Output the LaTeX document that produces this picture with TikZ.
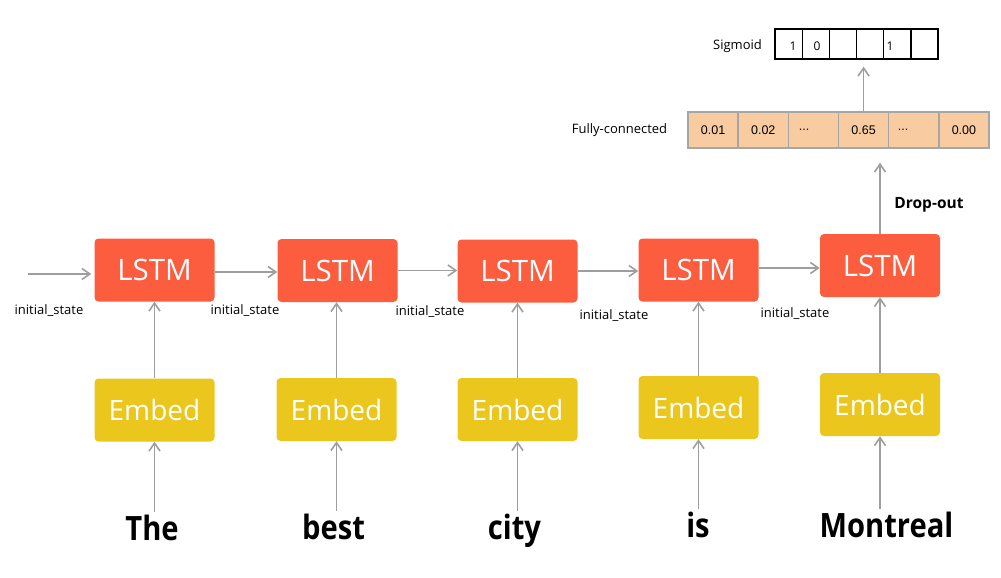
\documentclass[tikz,border=0pt]{standalone}
\usepackage{fontspec}
\setmainfont{Open Sans}
\newfontfamily\wordfont[FakeStretch=0.87]{Open Sans}
\newfontfamily\numfont{Liberation Sans}
\usetikzlibrary{arrows.meta}
\definecolor{lstmred}{HTML}{FB5D3E}
\definecolor{embedyel}{HTML}{EBC71D}
\definecolor{fcfill}{HTML}{F8CBA0}
\definecolor{fcline}{HTML}{A6A6A6}
\definecolor{arrgray}{HTML}{9E9E9E}
\tikzset{
  lstmbox/.style={fill=lstmred, rounded corners=4pt, minimum width=120pt, minimum height=63pt, inner sep=0pt,
    text=white, font=\fontsize{29.5}{34}\selectfont},
  embedbox/.style={fill=embedyel, rounded corners=4pt, minimum width=120pt, minimum height=63pt, inner sep=0pt,
    text=white, font=\fontsize{28}{32}\selectfont},
  wordnode/.style={anchor=base, inner sep=3pt, text height=25pt, text depth=7pt,
    font=\wordfont\bfseries\fontsize{33.5}{38}\selectfont},
  arr/.style={draw=arrgray, line width=1.6pt, -{Straight Barb[length=8pt,width=11pt,line width=1.6pt]}},
  smalllabel/.style={inner sep=0pt, font=\fontsize{13}{15}\selectfont},
  fccell/.style={draw=fcline, fill=fcfill, line width=1.5pt, minimum width=50.17pt, minimum height=36pt, inner sep=0pt,
    font=\numfont\fontsize{12.5}{14}\selectfont},
  sigcell/.style={draw=black, line width=1.3pt, minimum width=27.17pt, minimum height=30pt, inner sep=0pt},
  signum/.style={inner sep=0pt, font=\fontsize{12}{14}\selectfont}
}
\begin{document}
\begin{tikzpicture}[x=1pt,y=-1pt]
\useasboundingbox (0,0) rectangle (1001,578);

% LSTM boxes
\node[lstmbox] (l1) at (154.5,270) {LSTM};
\node[lstmbox] (l2) at (337.5,270.5) {LSTM};
\node[lstmbox] (l3) at (517.5,271) {LSTM};
\node[lstmbox] (l4) at (698.5,270) {LSTM};
\node[lstmbox] (l5) at (880,265.5) {LSTM};

% Embed boxes
\node[embedbox] (e1) at (154.5,410) {Embed};
\node[embedbox] (e2) at (336.5,409.5) {Embed};
\node[embedbox] (e3) at (517.5,409.5) {Embed};
\node[embedbox] (e4) at (698.5,407.5) {Embed};
\node[embedbox] (e5) at (880,404.5) {Embed};

% Words
\node[wordnode] (w1) at (152,540) {The};
\node[wordnode] (w2) at (333.5,539) {best};
\node[wordnode] (w3) at (514.5,539) {city};
\node[wordnode] (w4) at (698,537) {is};
\node[wordnode] (w5) at (886.5,537) {Montreal};

% word -> embed
\foreach \i in {1,...,5}{
  \draw[arr] (e\i.south |- w\i.north) -- (e\i.south);
}
% embed -> lstm
\foreach \i in {1,...,5}{
  \draw[arr] (e\i.north) -- (l\i.south -| e\i.north);
}

% initial state and recurrent arrows
\coordinate (s0) at (28,274);
\coordinate (a1) at ([yshift=-2pt]l1.east);
\coordinate (a4) at ([yshift=2pt]l4.east);
\draw[arr, shorten >=3pt] (s0) -- (l1.west |- s0);
\draw[arr] (a1) -- (l2.west |- a1);
\draw[arr] (l2.east) -- (l3.west |- l2.east);
\draw[arr] (l3.east) -- (l4.west |- l3.east);
\draw[arr] (a4) -- (l5.west |- a4);

% initial_state labels
\node[smalllabel] (i1) at (49,311) {initial\_state};
\node[smalllabel] (i2) at (245,311) {initial\_state};
\node[smalllabel] (i3) at (430,312) {initial\_state};
\node[smalllabel] (i4) at (614,316) {initial\_state};
\node[smalllabel] (i5) at (795,314) {initial\_state};

% Fully-connected layer
\foreach \i/\t in {1/0.01,2/0.02,3/{},4/0.65,5/{},6/0.00}{
  \node[fccell] (f\i) at ({688+25.085+50.17*(\i-1)},130) {\t};
}
\node[inner sep=0pt, font=\numfont\fontsize{12.5}{14}\selectfont] (d1) at (804,130) {...};
\node[inner sep=0pt, font=\numfont\fontsize{12.5}{14}\selectfont] (d2) at (903,130) {...};
\node[smalllabel] (fclab) at (619.5,130) {Fully-connected};

% Sigmoid layer
\foreach \i in {1,...,6}{
  \node[sigcell] (s\i) at ({775+13.585+27.17*(\i-1)},44) {};
}
\node[signum] (n1) at (793,46) {1};
\node[signum] (n2) at (817,46) {0};
\node[signum] (n3) at (890,46) {1};
\node[smalllabel] (siglab) at (737.5,46) {Sigmoid};

% LSTM5 -> FC, FC -> Sigmoid
\draw[arr, shorten >=14pt] (l5.north) -- (l5.north |- f6.south);
\draw[arr, shorten >=7pt] (f4.north) -- (f4.north |- s4.south);
\node[inner sep=0pt, font=\bfseries\fontsize{15.5}{18}\selectfont] (drop) at (929,205) {Drop-out};
\end{tikzpicture}
\end{document}
